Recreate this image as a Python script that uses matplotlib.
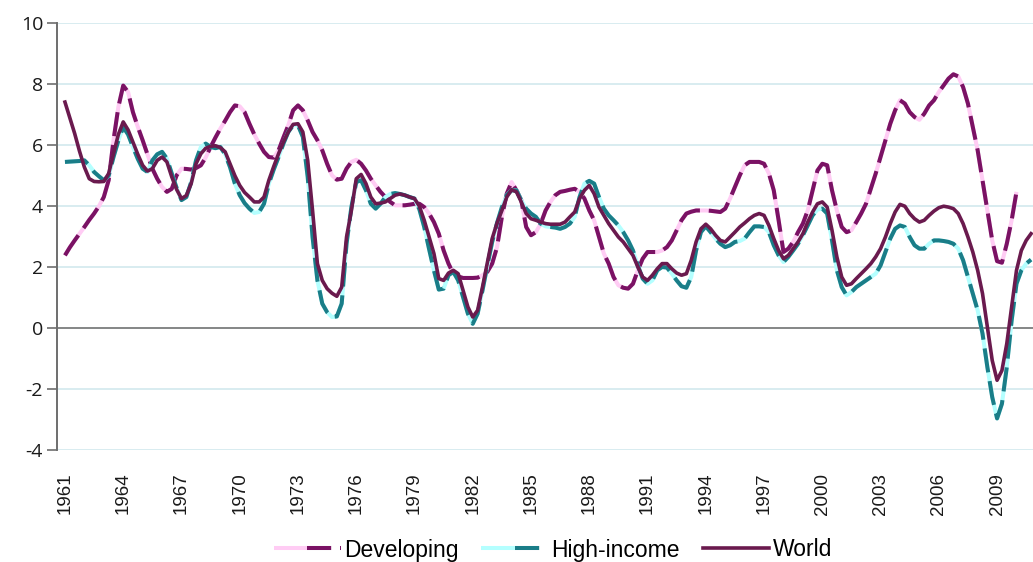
import numpy as np
import matplotlib.pyplot as plt
from matplotlib.legend_handler import HandlerTuple

plt.rcParams['axes.unicode_minus'] = False

# quarterly series, first point = 1961 Q1
developing = [
    2.39, 2.65, 2.88, 3.10,   # 1961
    3.32, 3.55, 3.76, 4.00,   # 1962
    4.30, 4.85, 6.16, 7.25,   # 1963
    7.95, 7.74, 7.08, 6.60,   # 1964
    6.16, 5.70, 5.23, 4.90,   # 1965
    4.63, 4.47, 4.57, 5.01,   # 1966
    5.23, 5.22, 5.20, 5.25,   # 1967
    5.34, 5.60, 5.94, 6.25,   # 1968
    6.54, 6.80, 7.08, 7.30,   # 1969
    7.27, 7.08, 6.70, 6.35,   # 1970
    6.05, 5.78, 5.61, 5.59,   # 1971
    5.83, 6.25, 6.65, 7.14,   # 1972
    7.30, 7.14, 6.81, 6.43,   # 1973
    6.16, 5.83, 5.39, 5.01,   # 1974
    4.87, 4.90, 5.23, 5.45,   # 1975
    5.52, 5.39, 5.17, 4.90,   # 1976
    4.68, 4.47, 4.30, 4.14,   # 1977
    4.03, 4.03, 4.03, 4.05,   # 1978
    4.08, 4.08, 3.97, 3.76,   # 1979
    3.48, 3.10, 2.55, 2.12,   # 1980
    1.79, 1.70, 1.65, 1.65,   # 1981
    1.65, 1.66, 1.74, 1.85,   # 1982
    2.12, 2.66, 3.65, 4.41,   # 1983
    4.79, 4.52, 4.19, 3.32,   # 1984
    3.05, 3.15, 3.43, 3.86,   # 1985
    4.14, 4.36, 4.47, 4.50,   # 1986
    4.54, 4.57, 4.47, 4.25,   # 1987
    3.86, 3.54, 2.99, 2.45,   # 1988
    2.12, 1.68, 1.41, 1.33,   # 1989
    1.30, 1.46, 1.90, 2.28,   # 1990
    2.50, 2.50, 2.50, 2.55,   # 1991
    2.66, 2.88, 3.21, 3.54,   # 1992
    3.76, 3.82, 3.86, 3.86,   # 1993
    3.86, 3.85, 3.83, 3.81,   # 1994
    3.92, 4.25, 4.63, 5.01,   # 1995
    5.34, 5.45, 5.45, 5.45,   # 1996
    5.39, 5.07, 4.52, 3.54,   # 1997
    2.50, 2.61, 2.83, 3.15,   # 1998
    3.43, 3.86, 4.52, 5.17,   # 1999
    5.39, 5.34, 4.52, 3.86,   # 2000
    3.32, 3.15, 3.21, 3.48,   # 2001
    3.76, 4.08, 4.57, 5.07,   # 2002
    5.61, 6.16, 6.70, 7.14,   # 2003
    7.47, 7.36, 7.08, 6.92,   # 2004
    6.83, 7.03, 7.30, 7.47,   # 2005
    7.74, 7.96, 8.18, 8.32,   # 2006
    8.25, 7.90, 7.36, 6.59,   # 2007
    5.83, 4.85, 3.86, 2.88,   # 2008
    2.20, 2.15, 2.77, 3.54,   # 2009
    4.47,                     # 2010
]

high_income = [
    5.45, 5.46, 5.47, 5.48,
    5.50, 5.34, 5.12, 4.98,
    4.85, 5.00, 5.61, 6.15,
    6.59, 6.35, 5.94, 5.55,
    5.23, 5.12, 5.50, 5.70,
    5.78, 5.56, 5.07, 4.60,
    4.20, 4.30, 4.79, 5.50,
    5.94, 6.05, 5.94, 5.90,
    5.94, 5.70, 5.28, 4.74,
    4.36, 4.10, 3.92, 3.78,
    3.81, 4.08, 4.74, 5.20,
    5.61, 6.05, 6.43, 6.65,
    6.65, 6.27, 4.96, 2.99,
    1.57, 0.81, 0.53, 0.37,
    0.39, 0.81, 2.77, 3.97,
    4.79, 4.85, 4.52, 4.08,
    3.92, 4.08, 4.30, 4.40,
    4.43, 4.40, 4.36, 4.30,
    4.25, 3.90, 3.32, 2.60,
    1.90, 1.27, 1.30, 1.74,
    1.85, 1.57, 1.03, 0.48,
    0.15, 0.48, 1.24, 2.05,
    2.83, 3.45, 3.97, 4.36,
    4.52, 4.52, 4.19, 3.92,
    3.76, 3.65, 3.43, 3.34,
    3.32, 3.30, 3.26, 3.32,
    3.43, 3.65, 4.30, 4.74,
    4.83, 4.74, 4.30, 3.92,
    3.70, 3.54, 3.37, 3.15,
    2.88, 2.55, 2.06, 1.63,
    1.46, 1.57, 1.90, 2.01,
    1.99, 1.79, 1.57, 1.38,
    1.33, 1.68, 2.55, 3.15,
    3.34, 3.15, 2.94, 2.77,
    2.66, 2.72, 2.83, 2.86,
    2.94, 3.15, 3.34, 3.34,
    3.32, 3.15, 2.72, 2.39,
    2.17, 2.34, 2.55, 2.77,
    3.05, 3.37, 3.70, 3.89,
    3.92, 3.76, 2.88, 1.90,
    1.35, 1.08, 1.19, 1.35,
    1.46, 1.57, 1.68, 1.79,
    2.06, 2.50, 2.94, 3.26,
    3.37, 3.32, 2.99, 2.72,
    2.61, 2.61, 2.77, 2.88,
    2.88, 2.86, 2.83, 2.77,
    2.61, 2.23, 1.68, 1.14,
    0.59, -0.17, -1.27, -2.25,
    -2.95, -2.47, -1.27, 0.26,
    1.46, 1.90, 2.12, 2.25,
]

world = [
    7.41, 6.90, 6.38, 5.80,
    5.28, 4.90, 4.81, 4.80,
    4.81, 5.07, 5.72, 6.35,
    6.76, 6.50, 6.10, 5.70,
    5.34, 5.15, 5.23, 5.50,
    5.61, 5.45, 4.96, 4.55,
    4.25, 4.35, 4.74, 5.39,
    5.72, 5.90, 5.96, 5.98,
    5.92, 5.78, 5.39, 5.00,
    4.68, 4.45, 4.30, 4.14,
    4.14, 4.30, 4.85, 5.30,
    5.72, 6.10, 6.43, 6.68,
    6.70, 6.43, 5.50, 3.86,
    2.12, 1.57, 1.30, 1.15,
    1.05, 1.35, 2.99, 3.86,
    4.90, 5.04, 4.74, 4.30,
    4.08, 4.10, 4.14, 4.25,
    4.36, 4.40, 4.36, 4.30,
    4.25, 4.00, 3.54, 3.00,
    2.45, 1.63, 1.57, 1.81,
    1.90, 1.79, 1.24, 0.70,
    0.37, 0.59, 1.35, 2.15,
    2.94, 3.45, 3.86, 4.30,
    4.54, 4.47, 4.14, 3.76,
    3.59, 3.54, 3.48, 3.43,
    3.41, 3.41, 3.41, 3.48,
    3.65, 3.81, 4.25, 4.52,
    4.68, 4.41, 3.97, 3.70,
    3.43, 3.21, 2.99, 2.83,
    2.61, 2.39, 2.01, 1.68,
    1.57, 1.74, 1.95, 2.12,
    2.12, 1.95, 1.81, 1.74,
    1.79, 2.23, 2.83, 3.26,
    3.41, 3.26, 3.05, 2.88,
    2.83, 2.99, 3.15, 3.32,
    3.45, 3.59, 3.70, 3.76,
    3.70, 3.37, 2.94, 2.55,
    2.28, 2.39, 2.61, 2.83,
    3.10, 3.48, 3.81, 4.08,
    4.14, 3.97, 3.21, 2.34,
    1.68, 1.41, 1.46, 1.63,
    1.79, 1.95, 2.12, 2.34,
    2.61, 2.99, 3.43, 3.81,
    4.06, 4.00, 3.76, 3.59,
    3.48, 3.54, 3.70, 3.84,
    3.95, 4.00, 3.97, 3.92,
    3.76, 3.43, 2.99, 2.50,
    1.90, 1.14, 0.04, -1.05,
    -1.70, -1.38, -0.50, 0.70,
    1.90, 2.55, 2.88, 3.10,
]

tick_years = list(range(1961, 2010, 3))
y_ticks = list(range(-4, 11, 2))
names = ['Developing', 'High-income', 'World']

t_dev = 1961 + 0.25 * np.arange(len(developing))
t_hi = 1961 + 0.25 * np.arange(len(high_income))
t_w = 1961 + 0.25 * np.arange(len(world))

fig = plt.figure(figsize=(10.33, 5.62), dpi=100)
ax = fig.add_axes([57 / 1033, 0.1984, 1 - 57 / 1033, 0.7607])

# two-tone dashed lines: light line underneath, dark dashes on top
dev_lo, = ax.plot(t_dev, developing, color='#ffccf4', lw=2.9, solid_capstyle='butt')
dev_hi, = ax.plot(t_dev, developing, color='#7a1264', lw=2.9, dashes=(6, 2.2), dash_capstyle='butt')
hi_lo, = ax.plot(t_hi, high_income, color='#b4ffff', lw=2.9, solid_capstyle='butt')
hi_hi, = ax.plot(t_hi, high_income, color='#1a7d88', lw=2.9, dashes=(6, 2.2), dash_capstyle='butt')
w_line, = ax.plot(t_w, world, color='#6a1a4e', lw=2.6)

ax.axhline(0, color='#7f7f7f', lw=1.3, zorder=1.5)

ax.set_xlim(1960.59, 2010.85)
ax.set_ylim(-4, 10)
ax.set_yticks(y_ticks)
ax.set_yticklabels([str(v) for v in y_ticks], fontsize=14, family='Open Sans', color='#1a1a1a')
ax.set_xticks(tick_years)
ax.set_xticklabels([str(y) for y in tick_years], rotation=90, fontsize=13.5,
                   family='Liberation Sans', color='#1a1a1a')
ax.tick_params(axis='x', length=0, pad=16)
ax.tick_params(axis='y', length=7, width=1.2, color='#6e6e6e', pad=3)

ax.yaxis.grid(True, color='#d6ebef', lw=1.3)
ax.set_axisbelow(True)
for s in ['top', 'right', 'bottom']:
    ax.spines[s].set_visible(False)
ax.spines['left'].set_color('#6e6e6e')
ax.spines['left'].set_linewidth(1.4)

fig.legend([(dev_lo, dev_hi), (hi_lo, hi_hi), w_line], names,
           handler_map={tuple: HandlerTuple(ndivide=None, pad=0)},
           loc='center', bbox_to_anchor=(553 / 1033, 1 - 550 / 562), ncol=3, frameon=False,
           prop={'family': 'Liberation Sans', 'size': 16.5}, handlelength=2.9,
           handletextpad=0.15, columnspacing=1.0, borderpad=0)

fig.savefig('out.png', dpi=100)
